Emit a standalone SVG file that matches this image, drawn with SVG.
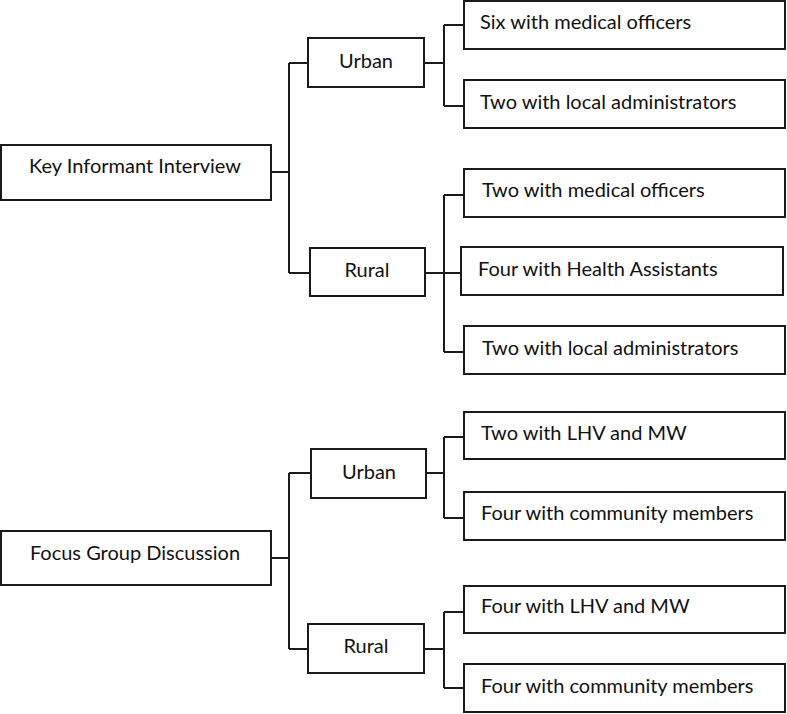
<svg xmlns="http://www.w3.org/2000/svg" width="787" height="714" viewBox="0 0 787 714">
<style>
.box{fill:#fff;stroke:#1a1a1a;stroke-width:2}
.t{font-family:Lato,"Open Sans","Liberation Sans",sans-serif;font-size:20px;fill:#111}
.c{text-anchor:middle}
.ln{fill:none;stroke:#1a1a1a;stroke-width:2}
</style>
<rect width="787" height="714" fill="#fff"/>
<g id="connectors" class="ln">
<path d="M271 172H289M289 63V273M289 63H308M289 273H310"/>
<path d="M424 63H444M444 25V106M444 25H464M444 106H464"/>
<path d="M425 273H461M444 195V352M444 195H464M444 352H464"/>
<path d="M271 558H289M289 473V649M289 473H311M289 649H308"/>
<path d="M426 473H444M444 437V518M444 437H464M444 518H464"/>
<path d="M424 649H444M444 612V688M444 612H464M444 688H464"/>
</g>
<g id="kii"><rect class="box" x="1" y="145" width="270" height="55"/><text class="t c" x="135" y="173">Key Informant Interview</text></g>
<g id="kii-urban"><rect class="box" x="308" y="38" width="116" height="49"/><text class="t c" x="366" y="68">Urban</text></g>
<g id="kii-rural"><rect class="box" x="310" y="248" width="115" height="48"/><text class="t c" x="367" y="277">Rural</text></g>
<g id="kii-u1"><rect class="box" x="464" y="1" width="321" height="48"/><text class="t" x="480" y="29">Six with medical officers</text></g>
<g id="kii-u2"><rect class="box" x="464" y="80" width="321" height="48"/><text class="t" x="480" y="109">Two with local administrators</text></g>
<g id="kii-r1"><rect class="box" x="464" y="169" width="321" height="48"/><text class="t" x="482" y="197">Two with medical officers</text></g>
<g id="kii-r2"><rect class="box" x="461" y="247" width="322" height="48"/><text class="t" x="478" y="276">Four with Health Assistants</text></g>
<g id="kii-r3"><rect class="box" x="464" y="326" width="321" height="48"/><text class="t" x="482" y="355">Two with local administrators</text></g>
<g id="fgd"><rect class="box" x="1" y="531" width="270" height="54"/><text class="t c" x="135" y="560">Focus Group Discussion</text></g>
<g id="fgd-urban"><rect class="box" x="311" y="449" width="115" height="49"/><text class="t c" x="369" y="479">Urban</text></g>
<g id="fgd-rural"><rect class="box" x="308" y="624" width="116" height="49"/><text class="t c" x="366" y="653">Rural</text></g>
<g id="fgd-u1"><rect class="box" x="464" y="412" width="321" height="47"/><text class="t" x="481" y="440">Two with LHV and MW</text></g>
<g id="fgd-u2"><rect class="box" x="464" y="492" width="321" height="48"/><text class="t" x="481" y="520">Four with community members</text></g>
<g id="fgd-r1"><rect class="box" x="464" y="586" width="321" height="47"/><text class="t" x="481" y="613">Four with LHV and MW</text></g>
<g id="fgd-r2"><rect class="box" x="464" y="664" width="321" height="48"/><text class="t" x="481" y="693">Four with community members</text></g>
</svg>
